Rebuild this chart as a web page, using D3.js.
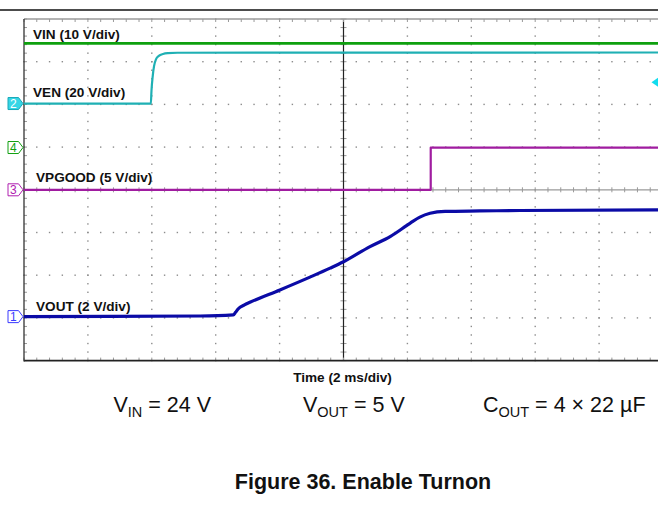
<!DOCTYPE html>
<html>
<head>
<meta charset="utf-8">
<script src="https://cdn.jsdelivr.net/npm/d3@7"></script>
<style>
  html, body { margin: 0; padding: 0; background: #fff; }
  svg { display: block; font-family: "Liberation Sans", Arial, sans-serif; }
</style>
</head>
<body>
<svg id="chart" width="658" height="506"></svg>
<script>
// ---------------- data ----------------
// time in ms (2 ms/div, trigger at centre = 0 ms)
const timeDomain = [-10, 10];
const divisionsX = 10;
const divisionsY = 8;

// Channel 4 : VIN (10 V/div)
const vinTime  = [-10, 10];
const vinVolts = [24.4, 24.4];

// Channel 2 : VEN (20 V/div)
const venTime  = [-10, -6.03, -6.01, -5.97, -5.93, -5.87, -5.78, -5.65, -5.5, -5.2, 10];
const venVolts = [0, 0, 6, 13, 17.5, 20.7, 22.3, 23.2, 23.6, 23.8, 23.9];

// Channel 3 : VPGOOD (5 V/div)
const pgTime  = [-10, 2.73, 2.73, 10];
const pgVolts = [0, 0, 4.95, 4.95];

// Channel 1 : VOUT (2 V/div)
const voutTime  = [-10, -4.49, -3.45, -3.38, -3.3, -3.1, -2.93, -1.99, -1.05, -0.42, 0, 0.83, 1.46, 2.08, 2.39, 2.71, 3.18, 4.27, 5.52, 10];
const voutVolts = [0, 0.03, 0.08, 0.2, 0.36, 0.55, 0.67, 1.25, 1.85, 2.27, 2.57, 3.28, 3.75, 4.37, 4.66, 4.84, 4.93, 4.95, 4.97, 5.0];

// channel settings
const channelNames   = ["VOUT (2 V/div)", "VEN (20 V/div)", "VPGOOD (5 V/div)", "VIN (10 V/div)"];
const channelNumbers = ["1", "2", "3", "4"];
const voltsPerDiv    = [2, 20, 5, 10];
const groundDiv      = [-2.97, 2.02, 0, 0.99];
const triggerLevel   = 10; // V on channel 2

// annotation texts
const xAxisTitle = "Time (2 ms/div)";
const conditions = [
  {main: "V", sub: "IN", rest: " = 24 V"},
  {main: "V", sub: "OUT", rest: " = 5 V"},
  {main: "C", sub: "OUT", rest: " = 4 × 22 µF"}
];
const figureTitle = "Figure 36. Enable Turnon";

// ---------------- layout ----------------
const svg = d3.select("#chart");
const W = 658, H = 506;
const plot = {left: 24, right: 663, top: 19, bottom: 360.6};

const x = d3.scaleLinear().domain(timeDomain).range([plot.left, plot.right]);
const yDiv = d3.scaleLinear().domain([-divisionsY / 2, divisionsY / 2]).range([plot.bottom, plot.top]);
const xDiv = d3.scaleLinear().domain([0, divisionsX]).range([plot.left, plot.right]);
const chY = (ch, v) => yDiv(groundDiv[ch] + v / voltsPerDiv[ch]);

svg.append("rect").attr("width", W).attr("height", H).attr("fill", "#fff");

// top rule
svg.append("line").attr("x1", 0).attr("x2", W).attr("y1", 10).attr("y2", 10)
  .attr("stroke", "#111").attr("stroke-width", 1.4);

const g = svg.append("g");

// dotted grid
const dotColor = "#8c8c8c";
const minorY = d3.range(0, divisionsY * 5 + 1).map(i => -divisionsY / 2 + i / 5);
const minorX = d3.range(0, divisionsX * 5 + 1).map(i => i / 5);
const dots = [];
for (let i = 1; i < divisionsX; i++) {
  if (i === divisionsX / 2) continue;
  minorY.forEach(d => dots.push([xDiv(i), yDiv(d)]));
}
for (let j = -divisionsY / 2 + 1; j < divisionsY / 2; j++) {
  if (j === 0) continue;
  minorX.forEach(d => dots.push([xDiv(d), yDiv(j)]));
}
g.append("g").selectAll("rect").data(dots).join("rect")
  .attr("x", d => d[0] - 0.7).attr("y", d => d[1] - 0.7)
  .attr("width", 1.4).attr("height", 1.4).attr("fill", dotColor);

// centre lines
g.append("line").attr("x1", plot.left).attr("x2", W).attr("y1", yDiv(0)).attr("y2", yDiv(0))
  .attr("stroke", "#9a9a9a").attr("stroke-width", 1.2);
g.append("g").selectAll("line").data(minorX).join("line")
  .attr("x1", d => xDiv(d)).attr("x2", d => xDiv(d))
  .attr("y1", yDiv(0) - 2.5).attr("y2", yDiv(0) + 2.5)
  .attr("stroke", "#999").attr("stroke-width", 1);
g.append("g").selectAll("line").data(minorY).join("line")
  .attr("x1", xDiv(5) - 3).attr("x2", xDiv(5) + 3)
  .attr("y1", d => yDiv(d)).attr("y2", d => yDiv(d))
  .attr("stroke", "#999").attr("stroke-width", 1);
g.append("line").attr("x1", xDiv(5)).attr("x2", xDiv(5)).attr("y1", plot.top).attr("y2", plot.bottom)
  .attr("stroke", "#222").attr("stroke-width", 1.2);

// frame
g.append("line").attr("x1", plot.left).attr("x2", W).attr("y1", plot.top).attr("y2", plot.top)
  .attr("stroke", "#9a9a9a").attr("stroke-width", 1.3);
g.append("g").selectAll("line").data(minorX).join("line")
  .attr("x1", d => xDiv(d)).attr("x2", d => xDiv(d))
  .attr("y1", plot.top).attr("y2", plot.top + 3)
  .attr("stroke", "#999").attr("stroke-width", 1);
g.append("g").selectAll("line").data(minorX).join("line")
  .attr("x1", d => xDiv(d)).attr("x2", d => xDiv(d))
  .attr("y1", plot.bottom - 3).attr("y2", plot.bottom)
  .attr("stroke", "#999").attr("stroke-width", 1);
g.append("g").selectAll("line").data(minorY).join("line")
  .attr("x1", plot.left).attr("x2", plot.left + 3)
  .attr("y1", d => yDiv(d)).attr("y2", d => yDiv(d))
  .attr("stroke", "#999").attr("stroke-width", 1);
g.append("line").attr("x1", plot.left).attr("x2", W).attr("y1", plot.bottom).attr("y2", plot.bottom)
  .attr("stroke", "#222").attr("stroke-width", 1.6);
g.append("line").attr("x1", plot.left).attr("x2", plot.left).attr("y1", plot.top).attr("y2", plot.bottom + 0.8)
  .attr("stroke", "#333").attr("stroke-width", 1.3);

// traces
const traces = [
  {ch: 3, t: vinTime, v: vinVolts, color: "#0ea00e", width: 2.8, curve: d3.curveLinear},
  {ch: 1, t: venTime, v: venVolts, color: "#1fb0b4", width: 2.2, curve: d3.curveMonotoneX},
  {ch: 2, t: pgTime, v: pgVolts, color: "#a01ca0", width: 2.2, curve: d3.curveLinear},
  {ch: 0, t: voutTime, v: voutVolts, color: "#0b0ba6", width: 3.2, curve: d3.curveMonotoneX}
];
traces.forEach(tr => {
  const pts = tr.t.map((t, i) => [t, tr.v[i]]);
  const line = d3.line().x(d => x(d[0])).y(d => chY(tr.ch, d[1])).curve(tr.curve);
  g.append("path").attr("d", line(pts)).attr("fill", "none")
    .attr("stroke", tr.color).attr("stroke-width", tr.width).attr("stroke-linejoin", "round");
});

// channel labels
const labelPos = [[36, 310.5], [33, 96.5], [36, 182], [33, 39]];
channelNames.forEach((n, i) => {
  svg.append("text").attr("x", labelPos[i][0]).attr("y", labelPos[i][1])
    .attr("font-size", 13.6).attr("font-weight", "bold").attr("fill", "#111").text(n);
});

// ground markers
const markerColors = ["#3a3aff", "#1fc8d8", "#b020b0", "#10a010"];
channelNumbers.forEach((n, i) => {
  const yc = yDiv(groundDiv[i]);
  const filled = i === 1;
  const gm = svg.append("g").attr("transform", `translate(8,${yc})`);
  gm.append("path").attr("d", "M0,-6 L10.5,-6 L15,0 L10.5,6 L0,6 Z")
    .attr("fill", filled ? "#36d6e6" : "#fff")
    .attr("stroke", filled ? "#18a8b8" : markerColors[i]).attr("stroke-width", 1);
  gm.append("text").attr("x", 5.3).attr("y", 4.6).attr("text-anchor", "middle")
    .attr("font-size", 12).attr("fill", filled ? "#fff" : markerColors[i]).text(n);
});

// trigger level marker (channel 2)
const ty = chY(1, triggerLevel);
svg.append("path").attr("d", `M651.5,${ty} L658,${ty - 4.5} L658,${ty + 4.5} Z`).attr("fill", "#12dcee");

// axis title
svg.append("text").attr("x", 342.5).attr("y", 382).attr("text-anchor", "middle")
  .attr("font-size", 13.6).attr("font-weight", "bold").attr("fill", "#111").text(xAxisTitle);

// conditions
const condX = [113.5, 303, 483];
conditions.forEach((c, i) => {
  const t = svg.append("text").attr("x", condX[i]).attr("y", 412).attr("font-size", 21.5).attr("fill", "#111");
  t.append("tspan").text(c.main);
  t.append("tspan").attr("dy", 5).attr("font-size", 14.5).text(c.sub);
  t.append("tspan").attr("dy", -5).text(c.rest);
});

// figure title
svg.append("text").attr("x", 363).attr("y", 489).attr("text-anchor", "middle")
  .attr("font-size", 21.5).attr("font-weight", "bold").attr("fill", "#111").text(figureTitle);
</script>
</body>
</html>
